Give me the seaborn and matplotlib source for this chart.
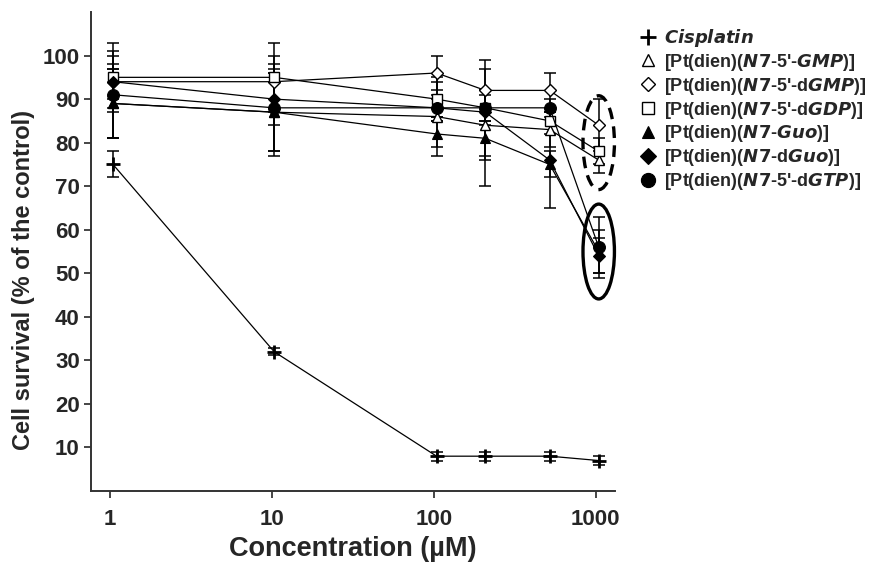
import matplotlib
matplotlib.use("Agg")
import matplotlib.pyplot as plt
import numpy as np
import pandas as pd
import seaborn as sns
from matplotlib.lines import Line2D
from matplotlib.patches import Ellipse

# concentrations (µM), as placed in the figure
conc = [1.04, 10.3, 104, 208, 520, 1045]

cisplatin = [75, 32, 8, 8, 8, 7]
cisplatin_err = [3, 0.8, 1, 1, 1, 1]
gmp = [89, 87, 86, 84, 83, 76]
gmp_err = [8, 9, 9, 8, 4, 3]
dgmp = [94, 94, 96, 92, 92, 84]
dgmp_err = [6, 6, 4, 7, 4, 6]
dgdp = [95, 95, 90, 88, 85, 78]
dgdp_err = [8, 8, 4, 4, 3, 3]
guo = [89, 87, 82, 81, 75, 55]
guo_err = [8, 10, 3, 11, 3, 5]
dguo = [94, 90, 88, 87, 76, 54]
dguo_err = [4, 6, 2, 10, 11, 4]
dgtp = [91, 88, 88, 88, 88, 56]
dgtp_err = [10, 10, 3, 3, 2, 7]

series_names = [
    "Cisplatin",
    r"[Pt(dien)($\mathit{N7}$-5'-$\mathit{GMP}$)]",
    r"[Pt(dien)($\mathit{N7}$-5'-d$\mathit{GMP}$)]",
    r"[Pt(dien)($\mathit{N7}$-5'-d$\mathit{GDP}$)]",
    r"[Pt(dien)($\mathit{N7}$-$\mathit{Guo}$)]",
    r"[Pt(dien)($\mathit{N7}$-d$\mathit{Guo}$)]",
    r"[Pt(dien)($\mathit{N7}$-5'-d$\mathit{GTP}$)]",
]
series_vals = [cisplatin, gmp, dgmp, dgdp, guo, dguo, dgtp]
series_errs = [cisplatin_err, gmp_err, dgmp_err, dgdp_err, guo_err, dguo_err, dgtp_err]

# marker, size, filled, edge width
styles = [
    ("+", 10, True, 2.0),
    ("^", 7.5, False, 1.0),
    ("D", 6, False, 1.0),
    ("s", 7.5, False, 1.0),
    ("^", 7.5, True, 0.8),
    ("D", 6.5, True, 0.8),
    ("o", 8.5, True, 0.8),
]

frames = []
for name, vals, errs in zip(series_names, series_vals, series_errs):
    frames.append(pd.DataFrame({"series": name, "conc": conc, "survival": vals, "err": errs}))
df = pd.concat(frames, ignore_index=True)

sns.set_style("ticks")
plt.rcParams["font.family"] = ["Liberation Sans", "DejaVu Sans"]
plt.rcParams["mathtext.fontset"] = "custom"
plt.rcParams["mathtext.it"] = "DejaVu Sans:italic:bold"
plt.rcParams["mathtext.rm"] = "DejaVu Sans:bold"

fig = plt.figure(figsize=(8.78, 5.62), dpi=100)
ax = fig.add_axes([0.1036, 0.1263, 0.597, 0.8523])

for name, (mk, ms, filled, mew) in zip(series_names, styles):
    sub = df[df["series"] == name]
    ax.errorbar(sub["conc"], sub["survival"], yerr=sub["err"], fmt="none",
                ecolor="black", elinewidth=1.1, capsize=4, capthick=1.1, zorder=2)
    sns.lineplot(data=sub, x="conc", y="survival", ax=ax, color="black",
                 linewidth=0.9, marker=mk, markersize=ms,
                 markerfacecolor="black" if filled else "white",
                 markeredgecolor="black", markeredgewidth=mew,
                 zorder=3, legend=False)

ax.set_xscale("log")
ax.set_xlim(0.76, 1320)
ax.set_ylim(0, 110)
ax.set_xticks([1, 10, 100, 1000])
ax.set_xticklabels(["1", "10", "100", "1000"])
ax.xaxis.set_minor_locator(matplotlib.ticker.NullLocator())
ax.set_yticks(np.arange(10, 101, 10))
ax.tick_params(axis="both", labelsize=16, length=5, width=1.2, direction="out")
ax.tick_params(axis="x", pad=8)
ax.tick_params(axis="y", pad=3)
for lab in ax.get_xticklabels() + ax.get_yticklabels():
    lab.set_fontweight("bold")
for sp in ["top", "right"]:
    ax.spines[sp].set_visible(False)
for sp in ["left", "bottom"]:
    ax.spines[sp].set_linewidth(1.4)
    ax.spines[sp].set_color("#333333")

ax.set_xlabel("Concentration (µM)", fontsize=19.5, fontweight="bold")
ax.xaxis.set_label_coords(0.5, -0.093)
ax.set_ylabel("Cell survival (% of the control)", fontsize=17, fontweight="bold")
ax.yaxis.set_label_coords(-0.106, 0.44)

# highlight ellipses around the 1000 µM points
fig.canvas.draw()
to_axes = ax.transAxes.inverted()
c_open = to_axes.transform(ax.transData.transform((conc[-1], np.mean([dgmp[-1], gmp[-1]]))))
c_fill = to_axes.transform(ax.transData.transform((conc[-1], np.mean([dgtp[-1], dguo[-1]]))))
ax.add_patch(Ellipse(c_open, 0.06, 0.196, transform=ax.transAxes, fill=False,
                     edgecolor="black", linewidth=2.4, linestyle=(0, (3.5, 2.2)), clip_on=False))
ax.add_patch(Ellipse(c_fill, 0.06, 0.198, transform=ax.transAxes, fill=False,
                     edgecolor="black", linewidth=2.4, clip_on=False))

handles = []
for name, (mk, ms, filled, mew) in zip(series_names, styles):
    handles.append(Line2D([], [], linestyle="none", marker=mk, markersize=ms * 1.2,
                          markerfacecolor="black" if filled else "white",
                          markeredgecolor="black", markeredgewidth=mew))
labels = [r"$\mathit{Cisplatin}$"] + series_names[1:]
fig.legend(handles, labels, loc="upper left", bbox_to_anchor=(0.72, 0.965),
           frameon=False, handlelength=1.0, handletextpad=0.35,
           labelspacing=0.16, borderaxespad=0, prop={"weight": "bold", "size": 13})

fig.savefig("out.png", dpi=100)
